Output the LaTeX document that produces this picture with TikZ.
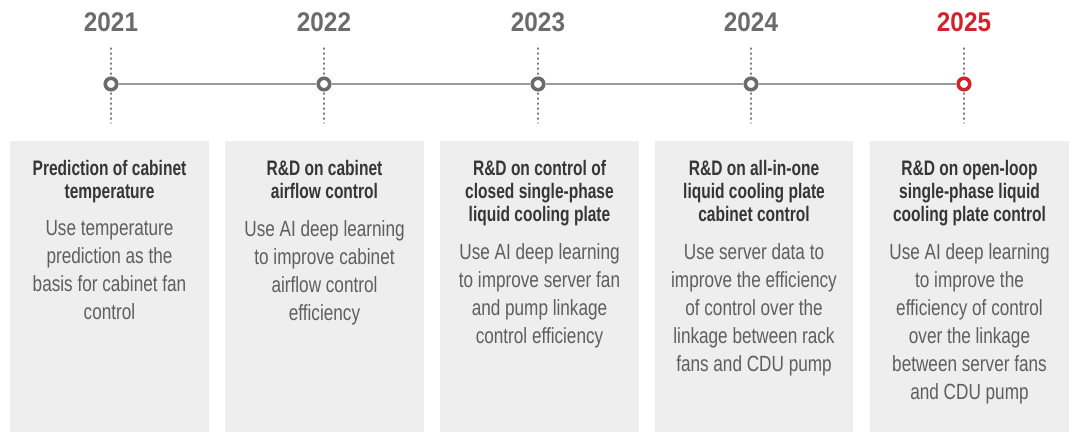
\documentclass[tikz,border=0pt]{standalone}
\usepackage{fontspec}
\setmainfont{Liberation Sans}[FakeStretch=0.78,BoldFeatures={FakeStretch=0.74}]
\newfontfamily\yearfont{Liberation Sans}[FakeStretch=0.9]
\definecolor{boxfill}{HTML}{EEEEEE}
\definecolor{yeargray}{HTML}{6B6B6B}
\definecolor{headgray}{HTML}{363636}
\definecolor{bodygray}{HTML}{5E5E5E}
\definecolor{linegray}{HTML}{9A9A9A}
\definecolor{dotgray}{HTML}{7A7A7A}
\definecolor{accent}{HTML}{D2232A}
\begin{document}
\begin{tikzpicture}[x=1pt,y=-1pt,
  yearlabel/.style={font=\yearfont\bfseries\fontsize{27}{29}\selectfont,text=yeargray,inner sep=0pt,anchor=base},
  milestone/.style={circle,draw=yeargray,line width=3.6pt,fill=white,minimum size=11.5pt,inner sep=0pt},
  panel/.style={fill=boxfill,draw=none},
  headtext/.style={font=\bfseries\fontsize{21}{23}\selectfont,text=headgray,align=center,inner sep=0pt,anchor=north},
  bodytext/.style={font=\fontsize{22}{28}\selectfont,text=bodygray,align=center,inner sep=0pt,anchor=north},
  tick/.style={dotgray,line width=1.2pt,dash pattern=on 1.2pt off 3.8pt,line cap=round}
]
\useasboundingbox (0,0) rectangle (1072,432);
% panels
\fill[panel] (10,141) rectangle (209,432);
\fill[panel] (225,141) rectangle (424,432);
\fill[panel] (440,141) rectangle (639,432);
\fill[panel] (655,141) rectangle (853,432);
\fill[panel] (870,141) rectangle (1069,432);
% timeline coordinates
\coordinate (t1top) at (111,48); \coordinate (t1bot) at (111,123);
\coordinate (t2top) at (324,48); \coordinate (t2bot) at (324,123);
\coordinate (t3top) at (538,48); \coordinate (t3bot) at (538,123);
\coordinate (t4top) at (751,48); \coordinate (t4bot) at (751,123);
\coordinate (t5top) at (964,48); \coordinate (t5bot) at (964,123);
\draw[tick] (t1top) -- (t1bot);
\draw[tick] (t2top) -- (t2bot);
\draw[tick] (t3top) -- (t3bot);
\draw[tick] (t4top) -- (t4bot);
\draw[tick] (t5top) -- (t5bot);
\node[milestone] (m1) at (111,84) {};
\node[milestone] (m2) at (324,84) {};
\node[milestone] (m3) at (538,84) {};
\node[milestone] (m4) at (751,84) {};
\node[milestone,draw=accent] (m5) at (964,84) {};
\draw[linegray,line width=1.3pt] (m1) -- (m2);
\draw[linegray,line width=1.3pt] (m2) -- (m3);
\draw[linegray,line width=1.3pt] (m3) -- (m4);
\draw[linegray,line width=1.3pt] (m4) -- (m5);
% years
\node[yearlabel] (y1) at (111,31.5) {2021};
\node[yearlabel] (y2) at (324,31.5) {2022};
\node[yearlabel] (y3) at (538,31.5) {2023};
\node[yearlabel] (y4) at (751,31.5) {2024};
\node[yearlabel,text=accent] (y5) at (964,31.5) {2025};
% headings
\node[headtext] (h1) at (109.5,160.5) {Prediction of cabinet\\temperature};
\node[headtext] (h2) at (324.5,160.5) {R\&D on cabinet\\airflow control};
\node[headtext] (h3) at (539.5,160.5) {R\&D on control of\\closed single-phase\\liquid cooling plate};
\node[headtext] (h4) at (754,160.5) {R\&D on all-in-one\\liquid cooling plate\\cabinet control};
\node[headtext] (h5) at (969.5,160.5) {R\&D on open-loop\\single-phase liquid\\cooling plate control};
% bodies
\node[bodytext] (b1) at (109.5,220.5) {Use temperature\\prediction as the\\basis for cabinet fan\\control};
\node[bodytext] (b2) at (324.5,220.5) {Use AI deep learning\\to improve cabinet\\airflow control\\efficiency};
\node[bodytext] (b3) at (539.5,243.5) {Use AI deep learning\\to improve server fan\\and pump linkage\\control efficiency};
\node[bodytext] (b4) at (754,243.5) {Use server data to\\improve the efficiency\\of control over the\\linkage between rack\\fans and CDU pump};
\node[bodytext] (b5) at (969.5,243.5) {Use AI deep learning\\to improve the\\efficiency of control\\over the linkage\\between server fans\\and CDU pump};
\end{tikzpicture}
\end{document}
